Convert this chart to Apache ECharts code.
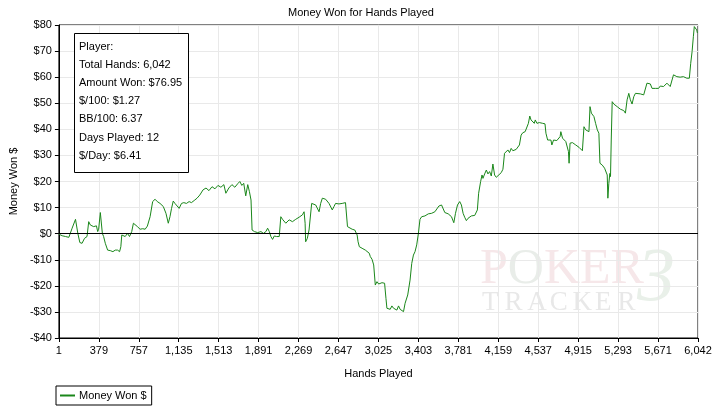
<!DOCTYPE html>
<html>
<head>
<meta charset="utf-8">
<script src="https://cdn.jsdelivr.net/npm/echarts@6/dist/echarts.min.js"></script>
<style>
html,body{margin:0;padding:0;background:#fff;}
#chart{width:722px;height:413px;}
</style>
</head>
<body>
<div id="chart"></div>
<script>
const chartTitle = 'Money Won for Hands Played';
const seriesName = 'Money Won $';
const xAxisName = 'Hands Played';
const yAxisName = 'Money Won $';
const xTickLabels = ['1','379','757','1,135','1,513','1,891','2,269','2,647','3,025','3,403','3,781','4,159','4,537','4,915','5,293','5,671','6,042'];
const infoLines = ['Player:','Total Hands: 6,042','Amount Won: $76.95','$/100: $1.27','BB/100: 6.37','Days Played: 12','$/Day: $6.41'];

const hands = [1,31,63,94,125,157,179,198,219,242,266,282,298,329,355,367,376,392,402,411,423,439,461,486,511,533,555,574,586,595,611,627,649,668,689,705,721,743,768,793,816,837,863,887,910,931,957,972,988,1013,1035,1051,1066,1082,1098,1113,1138,1160,1182,1207,1232,1254,1286,1307,1333,1364,1392,1420,1449,1477,1505,1533,1561,1580,1608,1637,1665,1693,1712,1731,1749,1768,1787,1803,1818,1828,1850,1881,1912,1935,1959,1975,1991,2006,2022,2038,2060,2085,2100,2116,2147,2179,2210,2241,2273,2304,2320,2330,2335,2351,2367,2392,2405,2430,2446,2462,2477,2493,2524,2556,2571,2587,2603,2618,2634,2650,2681,2712,2721,2731,2744,2775,2800,2822,2831,2843,2869,2900,2916,2937,2947,2963,2979,2994,3010,3026,3057,3082,3095,3104,3120,3135,3151,3167,3182,3198,3214,3229,3245,3261,3276,3292,3301,3323,3339,3355,3370,3386,3402,3417,3433,3464,3496,3527,3558,3574,3596,3621,3637,3652,3684,3715,3737,3753,3772,3793,3809,3825,3840,3856,3872,3903,3935,3951,3960,3972,3991,4004,4013,4029,4045,4060,4076,4092,4107,4123,4139,4155,4186,4202,4217,4233,4249,4264,4280,4296,4327,4343,4358,4374,4390,4412,4430,4443,4456,4468,4484,4499,4508,4524,4546,4578,4600,4609,4625,4640,4656,4665,4681,4694,4712,4725,4743,4750,4766,4781,4797,4813,4822,4828,4837,4860,4875,4891,4922,4954,4969,4985,5001,5016,5026,5039,5048,5063,5079,5095,5110,5120,5142,5164,5176,5189,5195,5204,5214,5220,5227,5236,5251,5283,5314,5345,5361,5377,5393,5408,5424,5440,5456,5471,5502,5534,5550,5565,5581,5597,5613,5628,5644,5660,5675,5691,5707,5722,5738,5754,5769,5785,5801,5816,5832,5848,5879,5910,5942,5966,5979,5992,6004,6013,6023,6036,6042];

const moneyWon = [-0.2,-0.8,-1.1,-1.4,2.1,5.5,0.1,-3.4,-3.7,-1.8,-1.1,4.6,3.3,2.7,3.0,0.8,1.7,8.1,8.2,0.1,-1.1,-3.7,-6.3,-6.5,-6.9,-6.3,-6.3,-6.9,-5.0,-0.5,-0.2,-1.1,0.1,-1.1,0.8,4.0,4.2,2.7,1.7,1.9,1.7,2.9,6.5,12.3,13.2,12.3,11.6,11.0,10.4,7.8,4.0,6.5,9.7,12.5,11.6,11.9,9.7,11.6,11.9,11.6,12.3,11.9,12.9,13.6,14.8,16.8,17.5,16.5,18.0,17.2,18.5,17.8,18.8,15.5,17.5,18.8,17.8,19.2,20.0,18.5,19.3,14.5,18.8,16.1,12.9,1.4,0.8,0.4,0.8,0.1,0.8,2.1,0.8,-1.1,-2.2,-0.9,-1.1,-1.1,6.5,5.5,4.0,5.3,4.6,5.5,6.3,7.2,8.4,4.0,-3.1,-1.8,1.4,11.6,12.3,11.0,10.6,8.4,11.6,13.6,13.2,11.6,11.0,9.1,10.4,11.6,11.9,11.4,11.6,11.9,12.3,2.7,2.1,1.7,1.4,-0.5,-3.1,-5.0,-5.6,-6.3,-6.9,-7.5,-8.8,-9.8,-12.0,-19.7,-18.4,-19.3,-18.8,-19.0,-24.8,-28.6,-28.0,-29.0,-27.7,-28.6,-28.0,-29.3,-27.7,-29.0,-29.5,-29.9,-26.7,-26.1,-23.5,-17.8,-11.4,-8.2,-6.9,-4.3,0.1,5.5,6.5,6.8,7.6,7.8,8.4,8.1,10.6,11.0,10.4,8.1,7.6,6.5,4.2,7.8,11.0,12.3,11.0,7.8,6.3,5.0,5.9,6.8,7.0,6.3,9.1,15.5,20.0,22.5,21.2,22.9,24.4,22.9,23.8,22.1,26.7,22.5,21.6,22.1,23.4,24.7,30.8,31.5,32.1,31.1,32.7,31.8,32.3,32.3,34.0,37.8,38.7,39.1,39.5,42.3,45.1,43.6,43.9,42.3,43.6,42.3,42.6,42.3,42.1,38.5,35.9,35.3,35.9,34.0,35.9,35.9,35.7,36.2,37.2,39.1,36.6,35.9,35.3,34.7,31.5,27.0,34.7,34.9,35.3,34.0,33.1,31.8,41.0,39.8,40.4,39.1,48.7,46.2,46.8,44.9,42.3,39.8,38.5,27.0,26.3,25.1,24.4,22.5,13.6,19.3,23.1,21.9,35.9,50.6,49.7,48.7,47.7,47.2,46.2,51.3,53.8,51.3,49.7,52.5,53.8,53.2,53.6,53.2,53.8,57.7,57.0,57.4,55.7,55.1,55.7,56.4,55.7,56.6,57.0,56.4,57.0,57.7,57.0,56.4,55.7,60.9,61.2,60.2,60.0,60.2,59.6,59.6,65.3,69.8,75.5,79.4,79.1,78.1,76.95];

const FONT = 'Liberation Sans';
const chart = echarts.init(document.getElementById('chart'), null, {renderer:'canvas'});

const lineData = hands.map((h,i)=>[h, moneyWon[i]]);

const trackerLetters = 'TRACKER'.split('');

const option = {
  animation:false,
  backgroundColor:'#fff',
  textStyle:{fontFamily:FONT},
  title:{
    text:chartTitle, left:283, top:2,
    textStyle:{fontFamily:FONT, fontSize:11, fontWeight:'normal', color:'#000'}
  },
  legend:{
    data:[{name:seriesName, icon:'rect'}],
    left:56, top:386,
    orient:'horizontal',
    borderColor:'#000', borderWidth:1, borderRadius:0,
    padding:[4,5,4,4],
    itemWidth:15, itemHeight:2, itemGap:4,
    textStyle:{fontFamily:FONT, fontSize:11, color:'#000', padding:[0,0,0,-1]}
  },
  grid:{
    left:55, right:24, top:25, bottom:75,
    show:true, borderColor:'#000', borderWidth:1, backgroundColor:'transparent'
  },
  xAxis:{
    type:'value', min:0, max:6048, interval:378,
    name:xAxisName, nameLocation:'middle', nameGap:30,
    nameTextStyle:{fontFamily:FONT, fontSize:11, color:'#000'},
    axisLine:{onZero:false, lineStyle:{color:'#000', width:1}},
    axisTick:{show:true, length:4, lineStyle:{color:'#000'}},
    axisLabel:{
      color:'#000', fontFamily:FONT, fontSize:11, margin:7,
      showMinLabel:true, showMaxLabel:true,
      formatter:function(v){ return xTickLabels[Math.round(v/378)] || ''; }
    },
    splitLine:{show:true, lineStyle:{color:'#e9e9e9', width:1}}
  },
  yAxis:{
    type:'value', min:-40, max:80, interval:10,
    name:yAxisName, nameLocation:'middle', nameGap:36, nameRotate:90,
    nameTextStyle:{fontFamily:FONT, fontSize:11, color:'#000'},
    axisLine:{show:true, lineStyle:{color:'#000', width:1}},
    axisTick:{show:true, length:4, lineStyle:{color:'#000'}},
    axisLabel:{
      color:'#000', fontFamily:FONT, fontSize:11, margin:7,
      formatter:function(v){ return v<0 ? '-$'+(-v) : '$'+v; }
    },
    splitLine:{show:true, lineStyle:{color:'#e9e9e9', width:1}}
  },
  graphic:[
    {
      type:'group', z:1, silent:true,
      children:[
        {type:'text', left:480, top:245, style:{
          text:'{p|P}{o|O}{p|KER}',
          rich:{
            p:{fontFamily:'Liberation Serif', fontSize:50, fill:'#f6e7e9'},
            o:{fontFamily:'Liberation Serif', fontSize:50, fill:'#e9ede9'}
          }
        }},
        {type:'text', left:637, top:242, style:{
          text:'3', fontFamily:'Liberation Serif', fontStyle:'italic', fontSize:76, fill:'#e9f0e9'
        }},
      ].concat(trackerLetters.map((ch,i)=>({
        type:'text', left:482 + i*22.6, top:289,
        style:{text:ch, fontFamily:'Liberation Serif', fontSize:27, fill:'#e8e8e8'}
      })))
    },
    {
      type:'rect', z:10, silent:true,
      shape:{x:74.5, y:33.5, width:114, height:139},
      style:{fill:'#fff', stroke:'#000', lineWidth:1}
    },
    {
      type:'text', z:11, silent:true, left:79, top:38,
      style:{text:infoLines.join('\n'), fontFamily:FONT, fontSize:11, lineHeight:18.1, fill:'#000'}
    }
  ],
  series:[{
    name:seriesName,
    type:'line',
    data:lineData,
    showSymbol:false,
    symbol:'none',
    lineStyle:{color:'#1a871a', width:1},
    itemStyle:{color:'#1a871a'},
    z:3,
    markLine:{
      silent:true, symbol:'none', animation:false,
      label:{show:false},
      lineStyle:{color:'#000', type:'solid', width:1},
      data:[{yAxis:0}]
    }
  }]
};
chart.setOption(option);
</script>
</body>
</html>
